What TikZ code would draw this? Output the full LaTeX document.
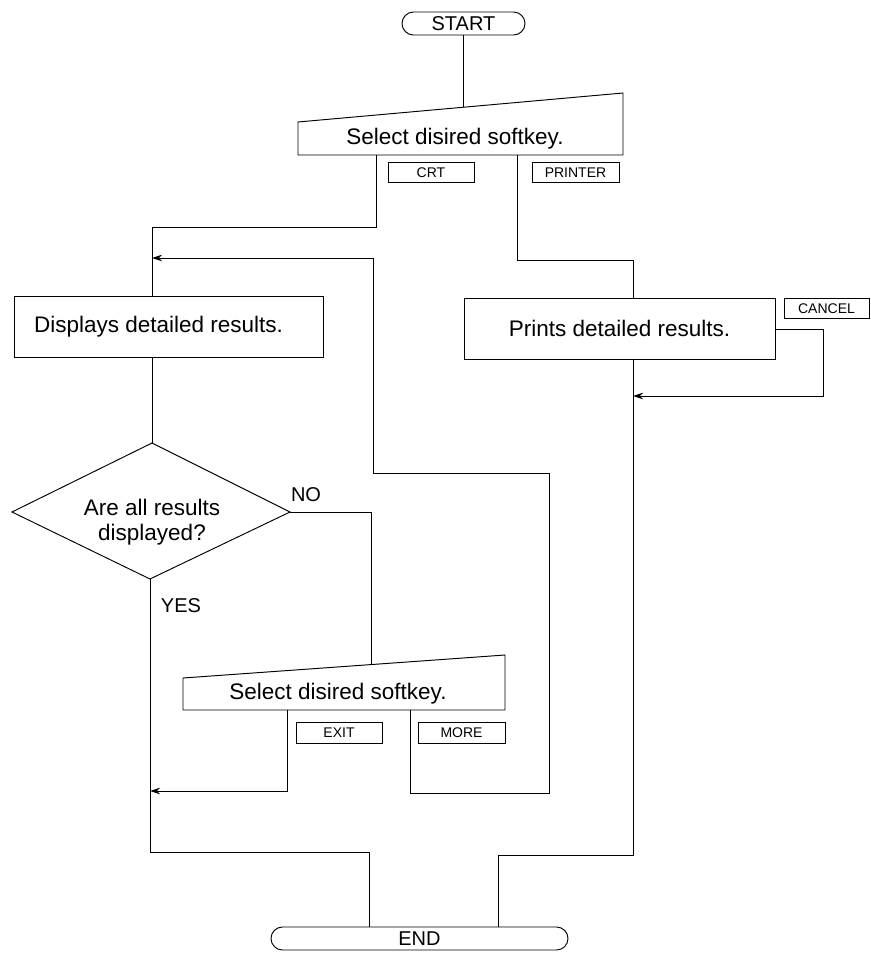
\documentclass[tikz,border=0pt]{standalone}
\usepackage{fontspec}
\setmainfont{Liberation Sans}
\usetikzlibrary{arrows.meta}
\begin{document}
\begin{tikzpicture}[x=1pt,y=-1pt,line width=0.95pt,
  term/.style={draw,rounded corners=11.5pt,minimum height=23pt,inner sep=0pt,font=\fontsize{20}{22}\selectfont},
  procbox/.style={draw,minimum height=61pt,inner sep=0pt,font=\fontsize{22.5}{25}\selectfont},
  txt/.style={inner sep=0pt,font=\fontsize{22.5}{25}\selectfont,align=center},
  keybox/.style={draw,minimum height=20.5pt,inner sep=0pt,font=\fontsize{14}{16}\selectfont},
  lbl/.style={inner sep=0pt,font=\fontsize{20}{22}\selectfont},
  arr/.style={-{Stealth[length=10pt,width=6.5pt]}}]
\useasboundingbox (0,0) rectangle (870,958);

% terminals
\node[term,minimum width=123pt] (start) at (463.5,23.5) {START};
\node[term,minimum width=297pt] (end) at (419.5,938.5) {END};

% first manual input
\coordinate (m1a) at (298,122);
\coordinate (m1b) at (623,93);
\coordinate (m1c) at (623,155);
\coordinate (m1d) at (298,155);
\draw (m1a) -- (m1b) -- (m1c) -- (m1d) -- cycle;
\node[txt] (sel1) at (455,139) {Select disired softkey.};
\coordinate (s1top) at (463.5,107.3);
\draw (start.south) -- (s1top);

\node[keybox,minimum width=86pt] (crt) at (431,172.5) {CRT};
\node[keybox,minimum width=87pt] (printer) at (575.5,172.5) {PRINTER};

% process boxes
\node[procbox,minimum width=309pt] (disp) at (168.5,326.5) {Displays detailed results.\kern20pt};
\node[procbox,minimum width=311pt] (prn) at (619.5,328.5) {Prints detailed results.};
\node[keybox,minimum width=85pt,anchor=west] (cancel) at (783.5,308.5) {CANCEL};

% CRT branch
\coordinate (crtout) at (376,155);
\draw (crtout) -- (376,227) -- (152,227) -- (152,296);
% PRINTER branch
\coordinate (prnout) at (517,155);
\draw (prnout) -- (517,260) -- (633,260) -- (633,298);

% CANCEL loop
\coordinate (cj) at (633,396);
\draw[arr] (prn.east |- 0,329) -- (823,329) -- (823,396) -- (cj);

% decision
\coordinate (dtop) at (152,443);
\coordinate (dleft) at (12,512);
\coordinate (dright) at (290,512);
\coordinate (dbot) at (150,579);
\draw (dtop) -- (dright) -- (dbot) -- (dleft) -- cycle;
\node[txt] (q) at (152,522) {Are all results\\displayed?};
\draw (152,357) -- (dtop);
\node[lbl] (no) at (306,495) {NO};
\node[lbl] (yes) at (181,606) {YES};

% second manual input
\coordinate (m2a) at (183,678);
\coordinate (m2b) at (505,655);
\coordinate (m2c) at (505,710);
\coordinate (m2d) at (183,710);
\draw (m2a) -- (m2b) -- (m2c) -- (m2d) -- cycle;
\node[txt] (sel2) at (338,694) {Select disired softkey.};
\coordinate (s2top) at (371,664.6);
\draw (dright) -- (371,512) -- (s2top);

\node[keybox,minimum width=86pt] (exit) at (339,733) {EXIT};
\node[keybox,minimum width=87pt] (more) at (461.5,733) {MORE};

% EXIT branch
\coordinate (exout) at (287,710);
\coordinate (exj) at (150,791);
\draw[arr] (exout) -- (287,791) -- (exj);
% MORE loop
\coordinate (moout) at (410,710);
\coordinate (moj) at (152,258);
\draw[arr] (moout) -- (410,793) -- (549,793) -- (549,473) -- (373,473) -- (373,258) -- (moj);

% to END
\draw (dbot) -- (150,852) -- (369,852) -- (369,927);
\draw (633,359) -- (633,855) -- (498,855) -- (498,927);
\end{tikzpicture}
\end{document}
